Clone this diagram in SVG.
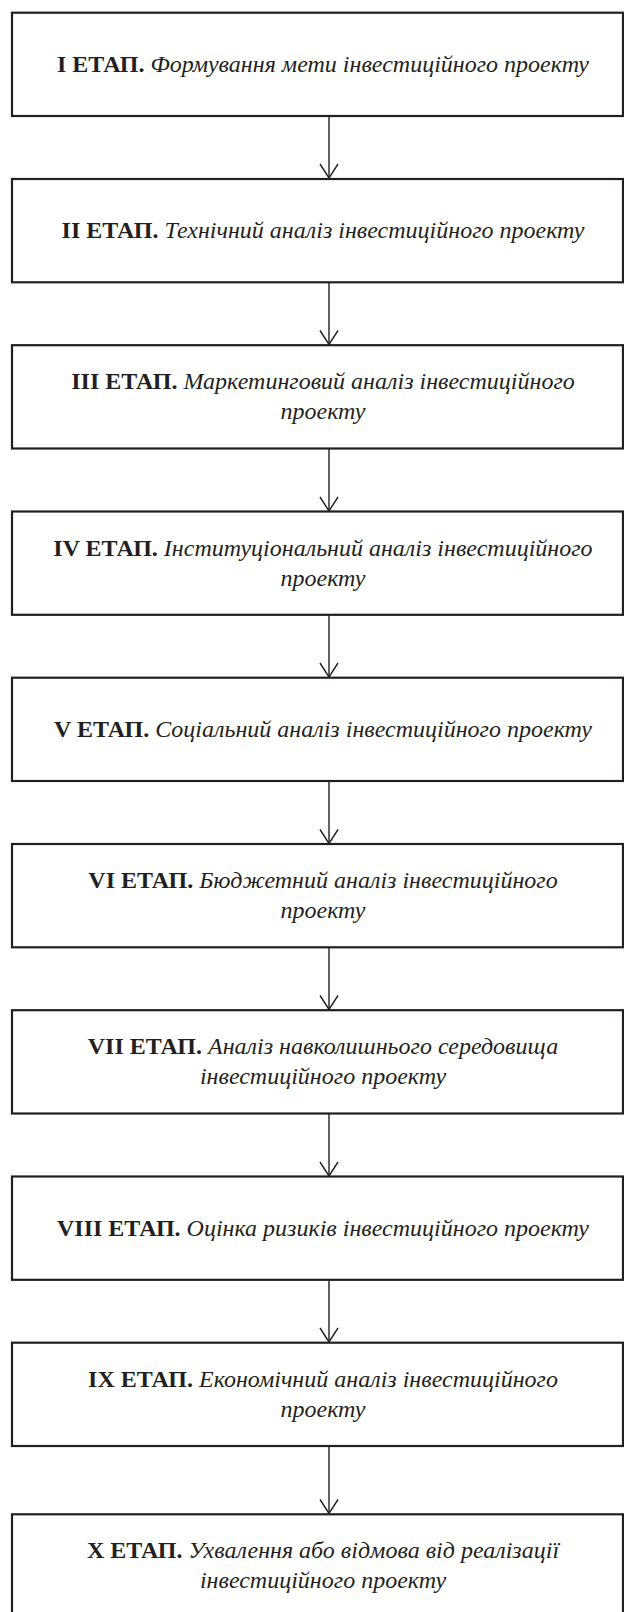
<svg xmlns="http://www.w3.org/2000/svg" width="624" height="1612" viewBox="0 0 624 1612">
<style>
.box{fill:#fff;stroke:#231f20;stroke-width:2.2}
.lbl{font-family:"Liberation Serif","Times New Roman",serif;font-size:24px;fill:#231f20;text-anchor:middle}
.b{font-weight:bold}
.i{font-style:italic}
.con{stroke:#231f20;stroke-width:1.4;fill:none}
</style>
<defs>
<marker id="arr" viewBox="0 0 20 16" refX="10" refY="15" markerWidth="20" markerHeight="16" markerUnits="userSpaceOnUse" orient="0">
<path d="M1,1 L10,15 L19,1" fill="none" stroke="#231f20" stroke-width="1.4"/>
</marker>
</defs>
<rect width="624" height="1612" fill="#fff"/>
<g id="connectors">
<line class="con" x1="329" y1="116" x2="329" y2="178" marker-end="url(#arr)"/>
<line class="con" x1="329" y1="282" x2="329" y2="344.5" marker-end="url(#arr)"/>
<line class="con" x1="329" y1="448.5" x2="329" y2="511" marker-end="url(#arr)"/>
<line class="con" x1="329" y1="615" x2="329" y2="677" marker-end="url(#arr)"/>
<line class="con" x1="329" y1="781" x2="329" y2="843.5" marker-end="url(#arr)"/>
<line class="con" x1="329" y1="947.5" x2="329" y2="1009.5" marker-end="url(#arr)"/>
<line class="con" x1="329" y1="1113.5" x2="329" y2="1176" marker-end="url(#arr)"/>
<line class="con" x1="329" y1="1280" x2="329" y2="1342" marker-end="url(#arr)"/>
<line class="con" x1="329" y1="1446" x2="329" y2="1513.5" marker-end="url(#arr)"/>
</g>
<g id="n1"><rect class="box" x="12" y="12.7" width="611" height="103.3"/>
<text class="lbl" x="323" y="71.5"><tspan class="b">I ЕТАП.</tspan> <tspan class="i">Формування мети інвестиційного проекту</tspan></text></g>
<g id="n2"><rect class="box" x="12" y="179" width="611" height="103.3"/>
<text class="lbl" x="323" y="238"><tspan class="b">II ЕТАП.</tspan> <tspan class="i">Технічний аналіз інвестиційного проекту</tspan></text></g>
<g id="n3"><rect class="box" x="12" y="345.2" width="611" height="103.3"/>
<text class="lbl" x="323" y="389.2"><tspan class="b">III ЕТАП.</tspan> <tspan class="i">Маркетинговий аналіз інвестиційного</tspan></text>
<text class="lbl i" x="323" y="419.2">проекту</text></g>
<g id="n4"><rect class="box" x="12" y="511.5" width="611" height="103.3"/>
<text class="lbl" x="323" y="555.5"><tspan class="b">IV ЕТАП.</tspan> <tspan class="i">Інституціональний аналіз інвестиційного</tspan></text>
<text class="lbl i" x="323" y="585.5">проекту</text></g>
<g id="n5"><rect class="box" x="12" y="677.7" width="611" height="103.3"/>
<text class="lbl" x="323" y="736.7"><tspan class="b">V ЕТАП.</tspan> <tspan class="i">Соціальний аналіз інвестиційного проекту</tspan></text></g>
<g id="n6"><rect class="box" x="12" y="844" width="611" height="103.3"/>
<text class="lbl" x="323" y="888"><tspan class="b">VI ЕТАП.</tspan> <tspan class="i">Бюджетний аналіз інвестиційного</tspan></text>
<text class="lbl i" x="323" y="918">проекту</text></g>
<g id="n7"><rect class="box" x="12" y="1010.2" width="611" height="103.3"/>
<text class="lbl" x="323" y="1054.2"><tspan class="b">VII ЕТАП.</tspan> <tspan class="i">Аналіз навколишнього середовища</tspan></text>
<text class="lbl i" x="323" y="1084.2">інвестиційного проекту</text></g>
<g id="n8"><rect class="box" x="12" y="1176.5" width="611" height="103.3"/>
<text class="lbl" x="323" y="1235.5"><tspan class="b">VIII ЕТАП.</tspan> <tspan class="i">Оцінка ризиків інвестиційного проекту</tspan></text></g>
<g id="n9"><rect class="box" x="12" y="1342.7" width="611" height="103.3"/>
<text class="lbl" x="323" y="1386.7"><tspan class="b">IX ЕТАП.</tspan> <tspan class="i">Економічний аналіз інвестиційного</tspan></text>
<text class="lbl i" x="323" y="1416.7">проекту</text></g>
<g id="n10"><rect class="box" x="12" y="1514.3" width="611" height="103.3"/>
<text class="lbl" x="323" y="1558.3"><tspan class="b">X ЕТАП.</tspan> <tspan class="i">Ухвалення або відмова від реалізації</tspan></text>
<text class="lbl i" x="323" y="1588.3">інвестиційного проекту</text></g>
</svg>
